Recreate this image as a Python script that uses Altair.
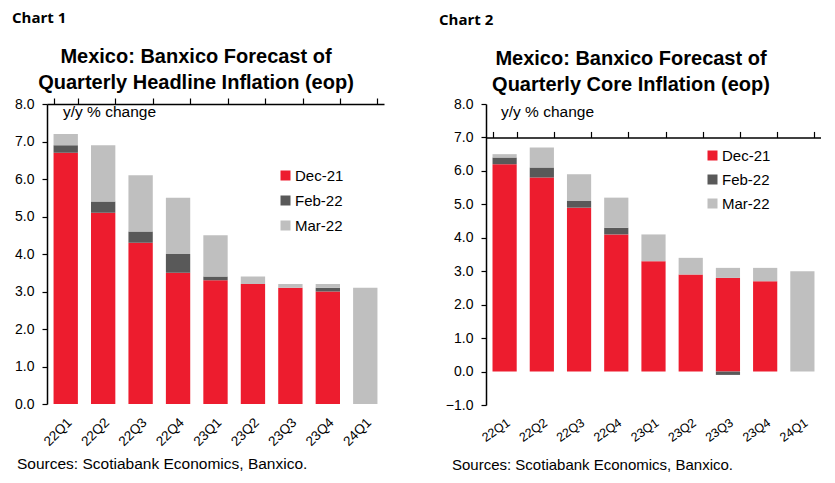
import altair as alt
import pandas as pd

quarters = ["22Q1", "22Q2", "22Q3", "22Q4", "23Q1", "23Q2", "23Q3", "23Q4", "24Q1"]
series = ["Dec-21", "Feb-22", "Mar-22"]
series_colors = ["#ED1C2E", "#595959", "#BFBFBF"]

# Headline inflation: stacked segments (Dec-21 forecast, Feb-22 revision, Mar-22 revision)
head_dec21 = [6.7, 5.1, 4.3, 3.5, 3.3, 3.2, 3.1, 3.0, 0.0]
head_feb22 = [0.2, 0.3, 0.3, 0.5, 0.1, 0.0, 0.0, 0.1, 0.0]
head_mar22 = [0.3, 1.5, 1.5, 1.5, 1.1, 0.2, 0.1, 0.1, 3.1]

# Core inflation
core_dec21 = [6.2, 5.8, 4.9, 4.1, 3.3, 2.9, 2.8, 2.7, 0.0]
core_feb22 = [0.2, 0.3, 0.2, 0.2, 0.0, 0.0, -0.1, 0.0, 0.0]
core_mar22 = [0.1, 0.6, 0.8, 0.9, 0.8, 0.5, 0.3, 0.4, 3.0]

head_ticks = [0, 1, 2, 3, 4, 5, 6, 7, 8]
core_ticks = [-1, 0, 1, 2, 3, 4, 5, 6, 7, 8]

FONT = "Liberation Sans"


def long_df(dec, feb, mar):
    rows = []
    for i, q in enumerate(quarters):
        for k, (s, vals) in enumerate(zip(series, [dec, feb, mar])):
            rows.append({"quarter": q, "series": s, "value": vals[i], "order": k})
    return pd.DataFrame(rows)


def note(text, x, y, size, weight="normal", align="left", baseline="alphabetic",
         font=FONT, line_height=None):
    kw = dict(text=text, align=align, baseline=baseline, fontSize=size,
              fontWeight=weight, font=font, color="#000000")
    if line_height:
        kw["lineHeight"] = line_height
    return alt.Chart(alt.Data(values=[{"k": 1}])).mark_text(**kw).encode(
        x=alt.value(x), y=alt.value(y))


def panel(df, ydom, yvals, W, H, label_angle, label_size, label_pad,
          legend_x, legend_y, row_pad, texts):
    xscale = alt.Scale(domain=quarters, paddingInner=0.35, paddingOuter=0.175)
    yscale = alt.Scale(domain=ydom, nice=False, zero=False)
    zero_px = H * (0 - ydom[0]) / (ydom[1] - ydom[0])

    bars = alt.Chart(df).mark_bar().encode(
        x=alt.X("quarter:N", sort=quarters, scale=xscale,
                axis=alt.Axis(title=None, labelAngle=label_angle, labelAlign="right",
                              labelBaseline="middle", labelFontSize=label_size,
                              labelFont=FONT, labelColor="#000000",
                              labelPadding=label_pad, labelOffset=4,
                              domain=False, ticks=False)),
        y=alt.Y("value:Q", stack="zero", scale=yscale,
                axis=alt.Axis(title=None, values=yvals, format=".1f", grid=False,
                              domainColor="#000000", domainWidth=1.5,
                              tickColor="#000000", tickWidth=1.2, tickSize=5,
                              labelFont=FONT, labelFontSize=14, labelColor="#000000",
                              labelPadding=8)),
        color=alt.Color("series:N",
                        scale=alt.Scale(domain=series, range=series_colors),
                        legend=alt.Legend(title=None, orient="none",
                                          legendX=legend_x, legendY=legend_y,
                                          symbolType="square", symbolSize=100,
                                          symbolStrokeWidth=0, labelFontSize=15,
                                          labelFont=FONT, labelColor="#000000",
                                          rowPadding=row_pad, labelOffset=2,
                                          padding=0)),
        order=alt.Order("order:Q", sort="ascending"),
    )

    xline = alt.Chart(df).mark_point(opacity=0).encode(
        x=alt.X("quarter:N", sort=quarters, scale=xscale,
                axis=alt.Axis(title=None, labels=False, domain=True,
                              domainColor="#000000", domainWidth=1.5,
                              ticks=True, tickBand="extent", tickSize=6,
                              tickColor="#000000", tickWidth=1.2,
                              offset=-zero_px)),
    )

    return alt.layer(bars, xline, *texts).resolve_axis(x="independent").properties(
        width=W, height=H)


head_df = long_df(head_dec21, head_feb22, head_mar22)
core_df = long_df(core_dec21, core_feb22, core_mar22)

p1 = panel(
    head_df, [0, 8], head_ticks, 337, 300, -45, 13.5, 16, 231, 64, 9,
    [
        note("Chart 1", -35, -81, 15, weight="bold", font="Open Sans"),
        note(["Mexico: Banxico Forecast of", "Quarterly Headline Inflation (eop)"],
             149, -41, 20, weight="bold", align="center", line_height=26),
        note("y/y % change", 16, 8, 15.5, baseline="middle"),
        note("Sources:  Scotiabank Economics, Banxico.", -30, 365, 15.5),
    ],
)

p2 = panel(
    core_df, [-1, 8], core_ticks, 335, 301, -35, 12.5, 16, 219, 44, 8,
    [
        note("Chart 2", -47, -79, 15, weight="bold", font="Open Sans"),
        note(["Mexico: Banxico Forecast of", "Quarterly Core Inflation (eop)"],
             145, -39, 20, weight="bold", align="center", line_height=26),
        note("y/y % change", 15, 8, 15.5, baseline="middle"),
        note("Sources:  Scotiabank Economics, Banxico.", -34, 366, 15),
    ],
)

chart = alt.hconcat(p1, p2, spacing=55).resolve_legend(color="independent").properties(
    padding={"left": 4, "top": 3, "right": 0, "bottom": 0}
).configure_view(stroke=None)

chart.save("out.html", embed_options={"renderer": "svg", "actions": False})
